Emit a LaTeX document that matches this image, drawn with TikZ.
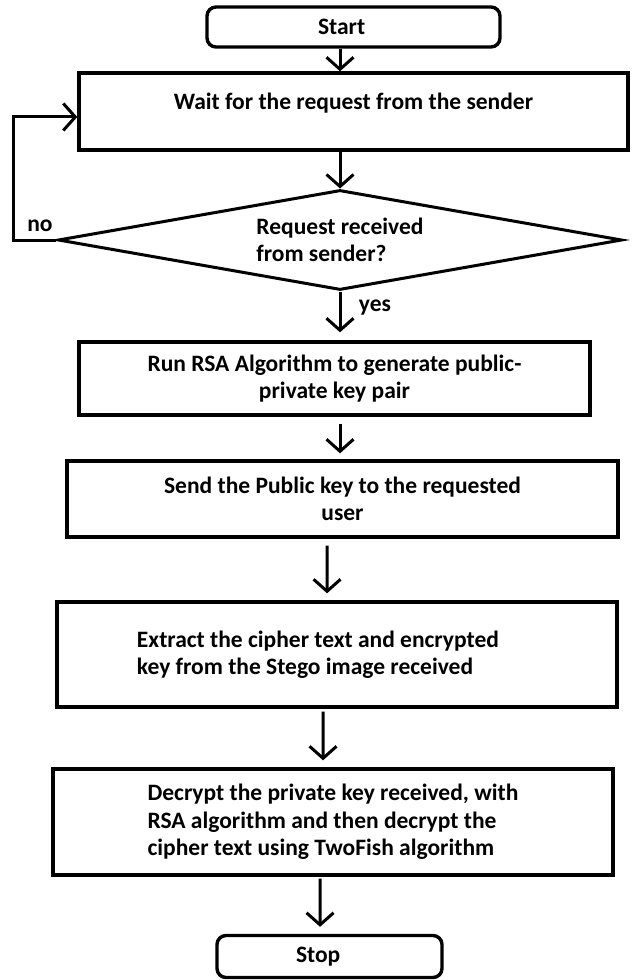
\documentclass[tikz,border=0pt]{standalone}
\usepackage{fontspec}
\setmainfont{Carlito}
\usepackage{tikz}
\usetikzlibrary{arrows.meta, positioning, shapes.geometric}

\begin{document}
\begin{tikzpicture}[
    x=1bp, y=-1bp,
    font=\fontsize{23.6}{27.5}\selectfont\bfseries,
    box/.style={rectangle, draw, line width=3.4bp, inner sep=0pt, align=center},
    term/.style={box, rounded corners=9bp, align=flush left},
    decision/.style={diamond, draw, line width=3bp, inner sep=0pt, shape aspect=5.64, align=left},
    arr/.style={line width=3bp, -{Straight Barb[length=12bp, width=27bp, line width=3bp]}},
    lbl/.style={inner sep=0pt}
]
    \useasboundingbox (0,0) rectangle (635,980);

    \node[term, minimum width=293bp, minimum height=40bp, text width=71bp] (start) at (353.5, 27) {Start};
    \node[box, minimum width=549bp, text height=36bp, text depth=41bp] (wait) at (353.5, 111.5) {Wait for the request from the sender};
    \node[decision, minimum width=564bp, minimum height=100bp] (dia) at (340, 240) {Request received\\from sender?};
    \node[box, minimum width=511bp, minimum height=73bp] (rsa) at (334.5, 378.5) {Run RSA Algorithm to generate public-\\private key pair};
    \node[box, minimum width=551bp, minimum height=76bp] (send) at (342.5, 499) {Send the Public key to the requested\\user};
    \node[box, minimum width=560bp, minimum height=105bp, text width=400bp, align=flush left] (extract) at (337, 654.5) {Extract the cipher text and encrypted\\key from the Stego image received};
    \node[box, minimum width=560bp, minimum height=106bp, align=left] (decrypt) at (333, 822) {Decrypt the private key received, with\\RSA algorithm and then decrypt the\\cipher text using TwoFish algorithm};
    \node[term, minimum width=225bp, minimum height=42bp, text width=67bp] (stop) at (329.5, 956.5) {Stop};

    \node[lbl] (no) at (40, 226) {no};
    \node[lbl] (yes) at (375, 308) {yes};

    \draw[arr] (start.south -| dia.north) -- (wait.north -| dia.north);
    \draw[arr] (wait.south -| dia.north) -- (dia.north);
    \draw[arr, shorten >=8bp] (dia.south) -- (rsa.north -| dia.south);
    \draw[arr, shorten <=7bp, shorten >=6bp] (rsa.south -| dia.south) -- (send.north -| dia.south);
    \draw[arr, shorten <=7bp, shorten >=7bp] ([xshift=-15.5pt]send.south) -- ([xshift=-10pt]extract.north);
    \draw[arr, shorten <=3bp, shorten >=7bp] ([xshift=-14pt]extract.south) -- ([xshift=-10pt]decrypt.north);
    \draw[arr, shorten <=2bp, shorten >=7bp] ([xshift=-13pt]decrypt.south) -- ([xshift=-9.5pt]stop.north);
    \draw[arr] (dia.west) -- ++(-43, 0) |- ([yshift=-5.5pt]wait.west);
\end{tikzpicture}
\end{document}
